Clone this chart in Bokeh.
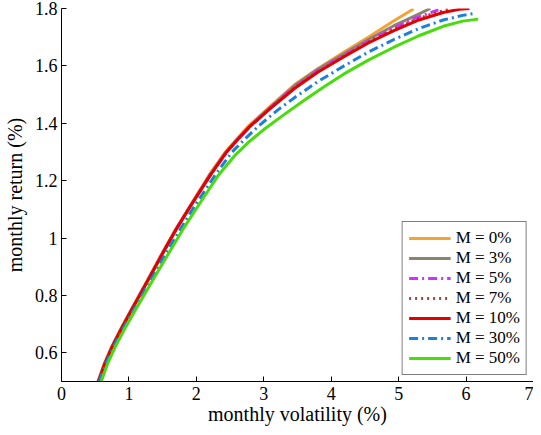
from bokeh.plotting import figure
from bokeh.models import Range1d, FixedTicker, Legend, LegendItem
from bokeh.embed import file_html
from bokeh.resources import INLINE

# ---- data (monthly volatility %, monthly return %) ----
labels = ["M = 0%", "M = 3%", "M = 5%", "M = 7%", "M = 10%", "M = 30%", "M = 50%"]

vol_m0 = [0.54, 0.63, 0.74, 0.87, 1.02, 1.29, 1.51, 1.69, 1.90, 2.19, 2.43, 2.60, 2.78, 3.09, 3.46, 3.80, 4.19, 4.55, 4.93, 5.22]
ret_m0 = [0.50, 0.56, 0.62, 0.68, 0.745, 0.86, 0.955, 1.03, 1.11, 1.22, 1.30, 1.345, 1.392, 1.458, 1.535, 1.59, 1.648, 1.70, 1.757, 1.798]

vol_m3 = [0.545, 0.635, 0.745, 0.875, 1.025, 1.295, 1.515, 1.695, 1.905, 2.20, 2.44, 2.61, 2.79, 3.09, 3.46, 3.80, 4.19, 4.55, 4.93, 5.22, 5.47]
ret_m3 = [0.50, 0.56, 0.62, 0.68, 0.745, 0.86, 0.955, 1.03, 1.11, 1.22, 1.30, 1.345, 1.39, 1.455, 1.532, 1.588, 1.642, 1.692, 1.74, 1.772, 1.80]

vol_m5 = [0.55, 0.64, 0.75, 0.88, 1.03, 1.30, 1.52, 1.70, 1.91, 2.21, 2.45, 2.62, 2.80, 3.09, 3.46, 3.80, 4.19, 4.55, 4.93, 5.22, 5.59]
ret_m5 = [0.50, 0.56, 0.62, 0.68, 0.745, 0.86, 0.955, 1.03, 1.11, 1.22, 1.30, 1.345, 1.39, 1.452, 1.527, 1.583, 1.637, 1.686, 1.732, 1.764, 1.795]

vol_m7 = [0.55, 0.64, 0.75, 0.88, 1.03, 1.30, 1.52, 1.70, 1.91, 2.21, 2.45, 2.62, 2.80, 3.09, 3.46, 3.80, 4.19, 4.55, 4.93, 5.22, 5.50, 5.74]
ret_m7 = [0.50, 0.56, 0.62, 0.68, 0.745, 0.86, 0.955, 1.03, 1.11, 1.22, 1.30, 1.345, 1.39, 1.451, 1.525, 1.58, 1.634, 1.683, 1.727, 1.758, 1.782, 1.797]

vol_m10 = [0.55, 0.64, 0.75, 0.88, 1.03, 1.30, 1.52, 1.70, 1.91, 2.21, 2.45, 2.62, 2.80, 3.09, 3.46, 3.80, 4.19, 4.55, 4.93, 5.30, 5.66, 5.90, 6.05]
ret_m10 = [0.50, 0.56, 0.62, 0.68, 0.745, 0.86, 0.955, 1.03, 1.11, 1.22, 1.30, 1.345, 1.39, 1.45, 1.522, 1.578, 1.632, 1.68, 1.723, 1.76, 1.786, 1.797, 1.80]

vol_m30 = [0.56, 0.655, 0.77, 0.905, 1.06, 1.34, 1.57, 1.76, 1.97, 2.28, 2.53, 2.72, 2.92, 3.20, 3.46, 3.80, 4.19, 4.55, 4.93, 5.30, 5.66, 5.95, 6.13]
ret_m30 = [0.50, 0.56, 0.62, 0.68, 0.745, 0.86, 0.955, 1.03, 1.11, 1.22, 1.30, 1.345, 1.39, 1.445, 1.49, 1.545, 1.60, 1.648, 1.692, 1.73, 1.76, 1.776, 1.783]

vol_m50 = [0.59, 0.68, 0.795, 0.93, 1.085, 1.37, 1.61, 1.80, 2.02, 2.33, 2.58, 2.78, 3.00, 3.30, 3.60, 3.90, 4.19, 4.55, 4.93, 5.30, 5.66, 5.95, 6.18]
ret_m50 = [0.50, 0.56, 0.62, 0.68, 0.745, 0.86, 0.955, 1.03, 1.11, 1.22, 1.29, 1.335, 1.378, 1.43, 1.48, 1.528, 1.572, 1.62, 1.665, 1.705, 1.738, 1.756, 1.763]

x_ticks = [0, 1, 2, 3, 4, 5, 6, 7]
y_ticks = [0.6, 0.8, 1.0, 1.2, 1.4, 1.6, 1.8]
y_tick_labels = ["0.6", "0.8", "1", "1.2", "1.4", "1.6", "1.8"]

series = [
    (vol_m0, ret_m0, "#F5A235", None),
    (vol_m3, ret_m3, "#8C8270", None),
    (vol_m5, ret_m5, "#CC33FF", "9 4 2 4"),
    (vol_m7, ret_m7, "#A0453A", "2 4"),
    (vol_m10, ret_m10, "#E30000", None),
    (vol_m30, ret_m30, "#1A80DC", "9 4 2 4"),
    (vol_m50, ret_m50, "#48DC0C", None),
]

FONT = "Liberation Serif"

p = figure(width=533, height=427, output_backend="svg", toolbar_location=None,
           x_range=Range1d(0, 7), y_range=Range1d(0.5, 1.8),
           min_border_left=57, min_border_right=0, min_border_top=8, min_border_bottom=40)
p.outline_line_color = None
p.grid.visible = False
p.background_fill_color = "white"
p.border_fill_color = "white"

items = []
for (xs, ys, col, dash), lab in zip(series, labels):
    kw = {}
    if dash:
        kw["line_dash"] = dash
    r = p.line(xs, ys, line_color=col, line_width=3, line_join="round", **kw)
    items.append(LegendItem(label=lab, renderers=[r]))

for ax in (p.xaxis[0], p.yaxis[0]):
    ax.major_tick_in = 5
    ax.major_tick_out = 0
    ax.minor_tick_line_color = None
    ax.axis_line_color = "black"
    ax.major_tick_line_color = "black"
    ax.major_label_text_font = FONT
    ax.major_label_text_font_size = "18px"
    ax.major_label_text_color = "black"
    ax.axis_label_text_font = FONT
    ax.axis_label_text_font_size = "20px"
    ax.axis_label_text_font_style = "normal"
    ax.axis_label_text_color = "black"

p.xaxis.ticker = FixedTicker(ticks=x_ticks)
p.yaxis.ticker = FixedTicker(ticks=y_ticks)
p.yaxis.major_label_overrides = {t: l for t, l in zip(y_ticks, y_tick_labels)}
p.xaxis.axis_label = "monthly volatility (%)"
p.yaxis.axis_label = "monthly return (%)"
p.xaxis.major_label_standoff = 5
p.xaxis.axis_label_standoff = 0
p.yaxis.major_label_standoff = 4
p.yaxis.axis_label_standoff = 6

legend = Legend(items=items, location="bottom_right")
legend.margin = 6
legend.padding = 6
legend.spacing = 0
legend.label_height = 18
legend.glyph_height = 18
legend.glyph_width = 42
legend.label_standoff = 5
legend.label_text_font = FONT
legend.label_text_font_size = "17px"
legend.label_text_color = "black"
legend.border_line_color = "black"
legend.border_line_width = 1
legend.background_fill_alpha = 1
p.add_layout(legend, "center")

open("out.html", "w").write(file_html(p, INLINE))
